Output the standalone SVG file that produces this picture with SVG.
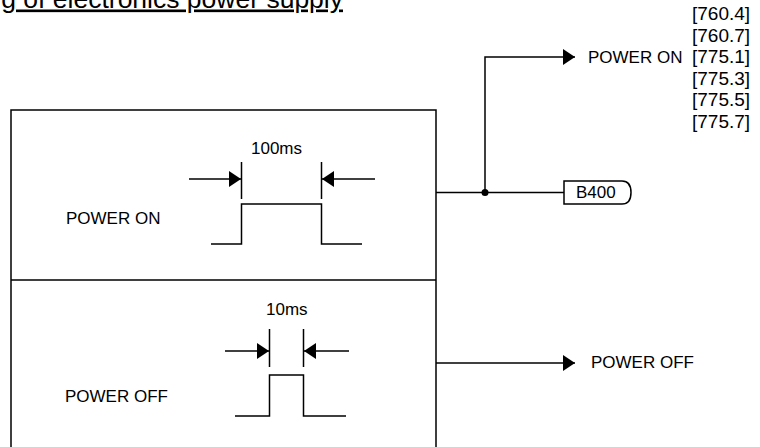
<svg xmlns="http://www.w3.org/2000/svg" width="760" height="447" viewBox="0 0 760 447">
<style>
text{font-family:"Liberation Sans",Arial,sans-serif;font-size:17px;fill:#000}
.title{font-size:26.5px;text-decoration:underline}
.ref{font-size:19px}
.ln{fill:none;stroke:#000;stroke-width:1.5}
</style>
<defs>
<marker id="arr" markerWidth="12" markerHeight="16" refX="12" refY="8" orient="auto" markerUnits="userSpaceOnUse">
<path d="M0,0 L12,8 L0,16 Z" fill="#000"/>
</marker>
</defs>
<rect width="760" height="447" fill="#fff"/>
<g id="title">
<text class="title" x="343" y="7.5" text-anchor="end">g of electronics power supply</text>
</g>
<g id="refs">
<text class="ref" x="692" y="20">[760.4]</text>
<text class="ref" x="692" y="41.5">[760.7]</text>
<text class="ref" x="692" y="63">[775.1]</text>
<text class="ref" x="692" y="84.5">[775.3]</text>
<text class="ref" x="692" y="106">[775.5]</text>
<text class="ref" x="692" y="127.5">[775.7]</text>
</g>
<g id="panel">
<path class="ln" d="M11,447 V110 H436 V447 M11,280 H436"/>
</g>
<g id="power-on-section">
<text x="66" y="224">POWER ON</text>
<text x="251" y="154">100ms</text>
<path class="ln" d="M211,244 H241.5 V204 H321.5 V244 H362"/>
<path class="ln" d="M241.5,162 V199 M321.5,162 V199"/>
<path class="ln" d="M189,179 H241" marker-end="url(#arr)"/>
<path class="ln" d="M375,179 H322" marker-end="url(#arr)"/>
</g>
<g id="power-off-section">
<text x="65" y="402">POWER OFF</text>
<text x="266" y="315">10ms</text>
<path class="ln" d="M235,416 H269.5 V375 H303.5 V416 H346"/>
<path class="ln" d="M269.5,329 V367 M303.5,329 V367"/>
<path class="ln" d="M225,351 H269" marker-end="url(#arr)"/>
<path class="ln" d="M349,351 H304" marker-end="url(#arr)"/>
</g>
<g id="connectors">
<path class="ln" d="M436,192.5 H564"/>
<path class="ln" d="M485,192.5 V57 H575" marker-end="url(#arr)"/>
<circle cx="485" cy="192.5" r="3.5" fill="#000"/>
<path class="ln" d="M436,363 H575" marker-end="url(#arr)"/>
</g>
<g id="power-on-out">
<text x="588" y="63">POWER ON</text>
</g>
<g id="b400">
<path class="ln" d="M564,181 H622 Q631,181 631,192.5 Q631,204 622,204 H564 Z" fill="#fff"/>
<text x="576" y="198">B400</text>
</g>
<g id="power-off-out">
<text x="591" y="368">POWER OFF</text>
</g>
</svg>
